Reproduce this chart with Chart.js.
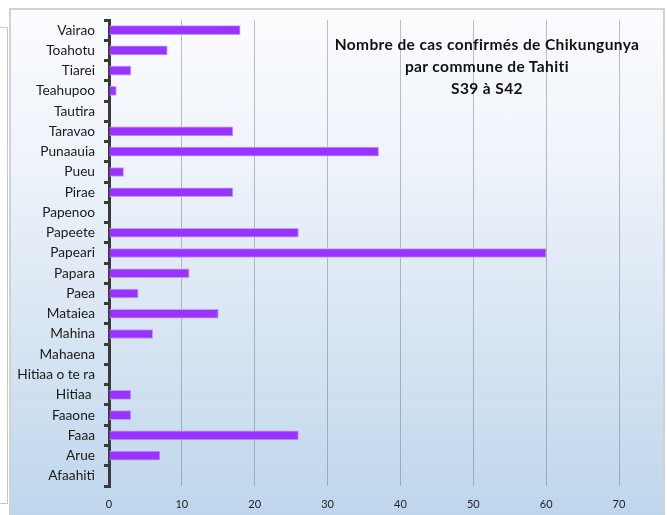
<!DOCTYPE html>
<html>
<head>
<meta charset="utf-8">
<script src="https://cdn.jsdelivr.net/npm/chart.js@4/dist/chart.umd.min.js"></script>
<style>
  html, body { margin: 0; padding: 0; background: #ffffff; }
  #page { position: relative; width: 667px; height: 515px; overflow: hidden; }
  #sheet { position: absolute; left: -2px; top: 27px; width: 8px; height: 475px;
           border: 1px solid #c8c8c8; background: #fff; }
  #frame { position: absolute; left: 9px; top: 8px; width: 652px; height: 520px;
           border: 2px solid #d2d2d2;
           background: linear-gradient(to bottom, #fbfcfe 0%, #eef3fa 30%, #d9e6f3 60%, #bcd5ec 100%); }
  canvas { position: absolute; left: 0; top: 0; }
  #title { position: absolute; left: 300px; width: 374px; top: 33px; text-align: center;
           font-family: Lato, "Open Sans", sans-serif; font-weight: bold; font-size: 15.5px;
           letter-spacing: 0.4px; line-height: 22px; color: #111; }
</style>
</head>
<body>
<div id="page">
  <div id="sheet"></div>
  <div id="frame"></div>
  <canvas id="c" width="667" height="515"></canvas>
  <div id="title">Nombre de cas confirmés de Chikungunya<br>par commune de Tahiti<br>S39 à S42</div>
</div>
<script>
const communes = ["Vairao", "Toahotu", "Tiarei", "Teahupoo", "Tautira", "Taravao", "Punaauia", "Pueu",
  "Pirae", "Papenoo", "Papeete", "Papeari", "Papara", "Paea", "Mataiea", "Mahina", "Mahaena",
  "Hitiaa o te ra", "Hitiaa ", "Faaone", "Faaa", "Arue", "Afaahiti"];
const casConfirmes = [18, 8, 3, 1, 0, 17, 37, 2, 17, 0, 26, 60, 11, 4, 15, 6, 0, 0, 3, 3, 26, 7, 0];
const xTicks = [0, 10, 20, 30, 40, 50, 60, 70];

new Chart(document.getElementById('c'), {
  type: 'bar',
  data: {
    labels: communes,
    datasets: [{
      data: casConfirmes,
      backgroundColor: '#9933ff',
      borderColor: '#c39bff',
      borderWidth: 1,
      barThickness: 9
    }]
  },
  options: {
    indexAxis: 'y',
    responsive: false,
    animation: false,
    layout: { padding: { top: 20, right: 48, left: 0, bottom: 0 } },
    plugins: { legend: { display: false }, tooltip: { enabled: false } },
    scales: {
      x: {
        min: 0, max: 70,
        afterBuildTicks: (s) => { s.ticks = xTicks.map(v => ({ value: v })); },
        afterFit: (s) => { s.height = 29; },
        border: { display: false },
        grid: { color: 'rgba(95,108,122,0.42)', lineWidth: 1, drawTicks: false },
        ticks: { padding: 12, color: '#222', font: { family: 'Lato', size: 11 } }
      },
      y: {
        afterFit: (s) => { s.width = 109; },
        border: { display: true, color: '#3a3a3a', width: 3 },
        grid: { drawOnChartArea: false, color: '#3a3a3a', lineWidth: 3, tickLength: 5, offset: true },
        ticks: { padding: 9, color: '#1a1a1a', font: { family: 'Lato', size: 13.7 } }
      }
    }
  }
});
</script>
</body>
</html>
